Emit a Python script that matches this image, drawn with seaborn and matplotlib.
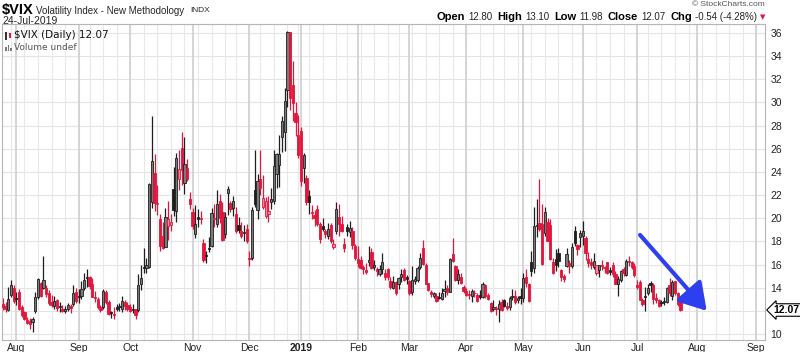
import numpy as np
import pandas as pd
import matplotlib
matplotlib.use("Agg")
import matplotlib.pyplot as plt
from matplotlib.patches import Rectangle
import seaborn as sns

# daily $VIX candles, 25-Jul-2018 .. 24-Jul-2019
opens = [
    12.6, 12.4, 12.1, 13.4, 14.0,
    13.0, 13.6, 12.3, 11.9, 11.2, 11.1, 11.0, 12.0, 13.2, 14.4, 14.0, 14.0, 13.5, 12.8, 12.4, 12.9, 12.3, 12.2, 12.0, 12.2, 12.4, 12.6, 13.6,
    13.2, 13.3, 14.0, 14.8, 14.9, 14.3, 13.2, 13.0, 12.3, 12.3, 13.6, 12.8, 11.9, 11.7, 12.3, 12.3, 12.2, 12.8, 12.5,
    12.3, 12.2, 12.2, 12.1, 14.3, 15.7, 15.7, 15.8, 21.4, 23.9, 21.2, 19.9, 18.5, 17.5, 19.3, 19.4, 22.5, 20.6, 23.4, 26.1, 23.0, 24.3, 21.7,
    20.5, 18.6, 20.1, 19.9, 17.9, 16.8, 17.4, 17.6, 19.9, 19.5, 21.5, 20.5, 18.6, 22.2, 21.3, 20.9, 20.4, 19.4, 18.9, 18.7, 19.1,
    16.5, 16.6, 22.4, 20.7, 23.4, 21.0, 20.2, 20.4, 21.4, 21.5, 23.8, 24.6, 27.0, 27.4, 31.1, 36.1, 31.5, 29.1, 27.2,
    27.5, 24.3, 23.5, 21.9, 20.5, 20.3, 20.8, 19.5, 19.3, 18.9, 18.5, 19.4, 17.5, 18.9, 20.1, 19.5, 17.8, 19.2, 18.8, 18.9, 17.6,
    16.5, 16.4, 15.8, 15.5, 16.2, 17.1, 15.8, 15.6, 15.2, 15.6, 15.3, 15.6, 14.6, 14.0, 14.5, 14.3, 14.9, 15.5, 14.9,
    14.6, 13.6, 14.6, 14.7, 15.8, 17.4, 16.0, 14.4, 13.6, 13.3, 13.3, 13.1, 13.0, 13.7, 14.0, 13.6, 16.9, 15.9, 14.7, 14.9, 14.1,
    13.7, 13.4, 13.3, 13.5, 13.4, 13.4, 13.2, 14.2, 13.4, 12.7, 12.2, 12.2, 12.2, 12.8, 12.9, 12.4, 12.3, 13.2, 13.3, 12.9, 13.3,
    13.1, 14.9, 14.3, 16.2, 15.7, 19.3, 19.6, 19.5, 18.7, 19.7, 19.4, 16.2, 16.5, 17.0, 15.5, 15.0, 15.9, 16.1, 15.9, 18.9, 17.7, 18.4,
    18.5, 18.3, 16.5, 16.2, 15.8, 15.3, 15.5, 16.0, 15.7, 16.2, 15.5, 16.0, 15.2, 14.3, 14.7, 15.6, 15.1, 16.3, 16.2, 15.9,
    14.2, 14.5, 12.9, 13.2, 13.5, 14.4, 14.2, 13.1, 12.9, 12.7, 12.8, 12.8, 14.2, 13.3, 14.6, 13.5, 12.80,
]
highs = [
    13.1, 12.8, 14.1, 14.7, 14.2,
    13.6, 13.9, 12.5, 12.0, 11.5, 11.4, 11.5, 13.6, 14.8, 14.5, 16.7, 14.2, 13.8, 13.4, 13.3, 13.0, 12.8, 12.5, 12.4, 12.7, 12.6, 14.2, 14.0,
    13.9, 14.6, 15.3, 15.6, 15.0, 14.8, 13.7, 13.2, 12.5, 13.9, 13.8, 12.9, 12.0, 12.3, 12.6, 12.7, 13.3, 12.9, 12.8,
    12.6, 12.6, 12.2, 15.2, 16.0, 17.4, 16.6, 23.0, 28.8, 25.5, 22.9, 20.4, 19.7, 20.9, 21.5, 20.4, 24.4, 25.6, 25.9, 27.4, 27.0, 25.1, 22.3,
    20.9, 21.1, 20.8, 20.6, 18.2, 17.2, 18.4, 20.9, 21.2, 22.4, 22.1, 21.4, 20.5, 22.8, 21.5, 21.9, 21.0, 20.1, 19.7, 19.4, 19.5,
    17.2, 21.0, 25.9, 23.8, 25.9, 23.7, 21.8, 21.9, 22.6, 25.9, 25.6, 27.2, 28.8, 31.2, 36.2, 36.1, 33.6, 30.0, 28.9,
    27.9, 25.6, 23.7, 22.4, 21.1, 20.7, 21.1, 19.7, 20.0, 19.1, 19.6, 19.6, 18.2, 21.4, 21.2, 20.2, 18.3, 19.5, 19.8, 19.2, 17.8,
    17.6, 16.7, 16.0, 16.1, 17.6, 17.4, 16.4, 15.8, 16.0, 17.0, 15.6, 15.7, 14.9, 15.0, 14.6, 14.9, 15.6, 15.7, 15.1,
    14.7, 15.9, 15.0, 15.9, 17.0, 18.1, 16.1, 14.4, 13.8, 13.6, 13.5, 13.6, 14.0, 14.7, 14.2, 16.6, 18.3, 16.0, 15.6, 15.3, 14.2,
    14.0, 13.8, 13.9, 13.8, 13.5, 13.8, 14.5, 14.3, 13.5, 12.8, 12.9, 12.4, 12.9, 13.0, 13.0, 12.8, 13.3, 13.9, 13.8, 13.3, 14.0,
    15.3, 15.6, 14.4, 17.2, 21.0, 21.7, 23.4, 21.2, 21.0, 20.0, 19.9, 16.6, 17.3, 17.4, 15.6, 15.2, 17.4, 16.4, 17.9, 19.3, 17.8, 19.0,
    19.8, 18.5, 17.1, 16.6, 17.0, 16.0, 16.0, 16.4, 15.9, 16.2, 15.8, 16.2, 15.4, 15.0, 15.5, 15.8, 16.5, 16.7, 16.3, 16.1,
    14.7, 14.7, 13.1, 14.1, 14.3, 14.6, 14.4, 13.5, 13.0, 12.9, 13.2, 14.1, 14.8, 14.7, 14.6, 13.6, 13.10,
]
lows = [
    12.1, 11.9, 12.0, 13.2, 12.7,
    12.5, 12.1, 11.5, 11.2, 10.9, 10.4, 10.2, 11.8, 13.0, 13.2, 13.9, 13.2, 12.5, 12.3, 12.2, 12.0, 11.9, 11.9, 11.8, 12.0, 11.8, 12.4, 12.7,
    12.7, 13.0, 13.8, 14.1, 13.9, 13.2, 12.8, 12.2, 11.9, 12.2, 12.6, 11.6, 11.4, 11.3, 12.0, 12.0, 11.9, 12.1, 12.0,
    11.9, 11.8, 11.3, 11.9, 13.8, 15.3, 15.3, 15.7, 20.9, 20.6, 20.3, 17.2, 17.3, 17.5, 18.1, 18.9, 20.2, 19.7, 22.4, 22.9, 22.1, 23.2, 20.8,
    19.1, 18.3, 19.2, 19.5, 16.2, 16.1, 17.1, 17.5, 19.2, 19.2, 19.6, 18.0, 18.3, 20.3, 20.5, 20.2, 18.7, 18.7, 18.3, 18.0, 17.9,
    15.9, 16.4, 21.0, 19.9, 22.0, 20.8, 20.0, 19.7, 20.8, 21.2, 22.6, 22.7, 25.7, 25.8, 29.6, 29.3, 28.4, 27.1, 25.2,
    22.8, 23.0, 21.1, 20.4, 19.9, 19.3, 19.3, 17.9, 18.9, 18.3, 18.2, 17.9, 17.3, 18.6, 18.5, 18.8, 17.1, 18.5, 18.4, 17.3, 16.4,
    15.8, 15.6, 15.2, 15.2, 15.9, 15.6, 15.5, 15.0, 15.0, 15.2, 14.7, 14.7, 13.9, 13.9, 13.4, 13.9, 14.5, 14.6, 14.3,
    13.4, 13.4, 14.3, 14.5, 15.6, 16.0, 14.3, 13.7, 13.2, 13.1, 12.8, 13.0, 12.9, 13.2, 13.4, 13.6, 16.2, 14.6, 14.3, 14.3, 13.5,
    13.3, 13.0, 12.8, 13.2, 12.8, 13.0, 13.1, 13.1, 12.9, 11.9, 12.0, 11.6, 11.0, 12.0, 12.3, 12.1, 12.1, 12.9, 12.6, 12.7, 12.6,
    12.8, 14.1, 12.8, 15.0, 15.3, 18.4, 18.9, 16.0, 18.5, 18.0, 16.4, 15.2, 15.4, 15.8, 14.6, 14.5, 15.8, 15.3, 15.7, 17.6, 16.8, 17.5,
    17.7, 16.4, 15.8, 15.6, 15.6, 15.1, 14.9, 15.5, 15.3, 15.2, 15.1, 14.9, 14.3, 13.3, 14.5, 15.0, 15.0, 15.9, 15.6, 14.9,
    13.9, 12.9, 12.4, 12.0, 13.4, 13.6, 12.6, 12.7, 12.3, 12.4, 12.5, 12.7, 13.3, 12.9, 13.4, 12.4, 11.98,
]
closes = [
    12.29, 12.14, 13.03, 14.26, 12.83,
    13.15, 12.19, 11.64, 11.27, 10.93, 10.85, 11.27, 13.16, 14.78, 13.31, 14.64, 13.45, 12.64, 12.49, 12.86, 12.25, 12.41, 11.99, 12.16, 12.50, 12.25, 13.53, 12.86,
    13.16, 13.91, 14.65, 14.88, 14.16, 13.22, 13.14, 12.37, 12.07, 13.68, 12.79, 11.75, 11.80, 11.68, 12.20, 12.42, 12.89, 12.41, 12.12,
    12.00, 12.05, 11.61, 14.22, 14.82, 15.69, 15.95, 22.96, 24.98, 21.31, 21.30, 17.62, 17.40, 20.06, 19.89, 19.64, 20.71, 25.23, 24.22, 24.16, 24.70, 23.35, 21.23,
    19.34, 19.51, 19.96, 19.91, 16.36, 16.72, 17.36, 20.45, 20.02, 21.25, 19.98, 18.14, 20.10, 22.48, 20.80, 21.52, 18.90, 19.02, 18.49, 18.79, 18.07,
    16.44, 20.74, 21.19, 23.23, 22.64, 21.76, 21.46, 20.65, 21.63, 24.52, 25.58, 25.58, 28.38, 30.11, 36.07, 30.41, 29.96, 28.34, 25.42,
    23.22, 25.45, 21.38, 21.40, 20.47, 19.98, 19.50, 18.19, 19.07, 18.60, 19.04, 18.06, 17.80, 20.80, 19.52, 18.89, 17.42, 18.87, 19.13, 17.66, 16.57,
    16.14, 15.73, 15.57, 15.38, 16.37, 15.72, 15.97, 15.43, 15.65, 16.22, 14.91, 14.88, 14.02, 14.46, 13.51, 14.85, 15.17, 14.70, 14.78,
    13.57, 14.63, 14.74, 15.74, 16.59, 16.05, 14.33, 13.77, 13.41, 13.50, 12.88, 13.10, 13.56, 13.91, 13.63, 16.48, 16.33, 14.68, 15.15, 14.43, 13.71,
    13.40, 13.36, 13.74, 13.58, 12.82, 13.18, 14.28, 13.30, 13.02, 12.01, 12.32, 12.18, 12.60, 12.09, 12.42, 12.28, 13.14, 13.25, 12.73, 13.11, 13.12,
    14.80, 14.42, 12.87, 15.44, 19.32, 19.40, 19.10, 16.04, 20.55, 18.06, 16.44, 15.29, 15.96, 16.31, 14.95, 14.75, 16.92, 15.85, 17.50, 17.90, 17.30, 18.71,
    18.86, 16.97, 16.09, 15.93, 16.30, 15.94, 15.99, 15.91, 15.82, 15.28, 15.35, 15.15, 14.33, 14.75, 15.40, 15.26, 16.28, 16.21, 15.82, 15.08,
    14.06, 12.93, 12.57, 13.28, 13.96, 14.23, 13.03, 12.93, 12.39, 12.68, 12.86, 13.97, 13.53, 14.45, 13.53, 12.61, 12.07,
]
assert len(opens) == len(highs) == len(lows) == len(closes), (len(opens), len(highs), len(lows), len(closes))

holidays = ["2018-09-03", "2018-11-22", "2018-12-05", "2018-12-25", "2019-01-01",
            "2019-01-21", "2019-02-18", "2019-04-19", "2019-05-27", "2019-07-04", "2019-09-02"]
month_labels = ["Aug", "Sep", "Oct", "Nov", "Dec", "2019", "Feb", "Mar", "Apr",
                "May", "Jun", "Jul", "Aug", "Sep"]
y_ticks = [10, 12, 14, 16, 18, 20, 22, 24, 26, 28, 30, 32, 34, 36]
y_tick_labels = ["10", "", "14", "16", "18", "20", "22", "24", "26", "28", "30", "32", "34", "36"]
header_values = [("Open", "12.80"), ("High", "13.10"), ("Low", "11.98"), ("Close", "12.07"),
                 ("Chg", "-0.54 (-4.28%)")]
last_close = "12.07"
trend_arrow = ((235.1, 18.55), (259.7, 12.0))  # hand-drawn arrow: start, tip

# trading-day axis (future days keep the right-hand blank space)
days = pd.bdate_range("2018-07-25", "2019-09-06")
days = days[~days.isin(pd.to_datetime(holidays))]
n = len(closes)
df = pd.DataFrame({"open": opens, "high": highs, "low": lows, "close": closes})
df["idx"] = np.arange(n)
df["prev"] = df["close"].shift(1).fillna(df["open"])

periods = days.to_period("M")
month_starts = [i for i in range(1, len(days)) if periods[i] != periods[i - 1]]
weeks = days.isocalendar().week.values
week_starts = [i for i in range(1, len(days)) if weeks[i] != weeks[i - 1]]

sns.set_theme(style="white")
plt.rcParams["font.family"] = ["Liberation Sans", "DejaVu Sans"]

RED = "#e0163c"
fig = plt.figure(figsize=(8, 3.52), dpi=100)
ax = fig.add_axes([2 / 800, 12 / 352, 763 / 800, 316 / 352])
ax.set_xlim(-0.3, 281.2)
ax.set_ylim(9.48, 36.77)

# grid
for y in y_ticks:
    ax.axhline(y, color="#e4e4e4", lw=0.8, zorder=0)
ax.vlines(week_starts, 9.48, 36.77, color="#e8e8e8", lw=0.8, zorder=0)
ax.vlines(month_starts, 9.48, 36.77, color="#d2d2d2", lw=1.3, zorder=0)

# candles: red = close below previous close, hollow = close above open
for r in df.itertuples():
    col = RED if r.close < r.prev else "#1e1e1e"
    hollow = r.close > r.open
    if hollow:
        face = "#f08ca0" if col == RED else "#7a7a7a"
    else:
        face = col
    ax.vlines(r.idx, r.low, r.high, color=col, lw=0.9, zorder=2)
    lo = min(r.open, r.close)
    h = max(abs(r.close - r.open), 0.08)
    ax.add_patch(Rectangle((r.idx - 0.42, lo), 0.84, h, facecolor=face,
                           edgecolor=col, lw=0.6, zorder=3))

# axes styling
ax.yaxis.tick_right()
ax.set_yticks(y_ticks)
ax.set_yticklabels(y_tick_labels)
ax.set_xticks(month_starts)
ax.set_xticklabels(month_labels)
for lab in ax.get_xticklabels():
    lab.set_family(["Liberation Sans Narrow", "Liberation Sans"])
    if lab.get_text() == "2019":
        lab.set_fontweight("bold")
        lab.set_fontsize(8.5)
ax.tick_params(axis="y", length=0, pad=4, labelsize=7.5, labelcolor="#222222")
ax.tick_params(axis="x", length=0, pad=2, labelsize=7.5, labelcolor="#222222")
for s in ax.spines.values():
    s.set_color("#b5b5b5")
    s.set_linewidth(0.8)
ax.set_xlabel("")
ax.set_ylabel("")

# last price marker
ax.annotate(last_close, xy=(1.0, float(last_close)), xycoords=("axes fraction", "data"),
            xytext=(6, 0), textcoords="offset points", ha="left", va="center",
            fontsize=7.5, fontweight="bold", color="black",
            bbox=dict(boxstyle="larrow,pad=0.12", fc="white", ec="black", lw=0.8),
            annotation_clip=False)

# trend arrow
ax.annotate("", xy=trend_arrow[1], xytext=trend_arrow[0],
            arrowprops=dict(arrowstyle="-|>,head_length=0.9,head_width=0.55",
                            color="#2e3ff0", lw=3, mutation_scale=18, shrinkA=0, shrinkB=0))

# in-chart legend
def px(x, y):
    return x / 800, 1 - y / 352

fig.add_artist(Rectangle(px(5, 40), 2 / 800, 8 / 352, transform=fig.transFigure, fc="#333333", ec="none"))
fig.add_artist(Rectangle(px(8.5, 38), 2 / 800, 5 / 352, transform=fig.transFigure, fc=RED, ec="none"))
for bx, bh in [(5, 4), (7.5, 6), (10, 3)]:
    fig.add_artist(Rectangle(px(bx, 51), 1.6 / 800, bh / 352, transform=fig.transFigure, fc="#777777", ec="none"))
fig.text(*px(14, 35), "$VIX (Daily) 12.07", fontsize=7.5, family="DejaVu Sans",
         va="center", color="#111111")
fig.text(*px(14, 47.5), "Volume undef", fontsize=6.5, family="DejaVu Sans",
         va="center", color="#555555")

# header
renderer = fig.canvas.get_renderer()
fig.text(*px(2, 10), "$VIX", fontsize=10.5, fontweight="bold", va="center", color="black")
t = fig.text(*px(36, 10.5), "Volatility Index - New Methodology", fontsize=7, va="center")
fig.text(*px(t.get_window_extent(renderer).x1 + 6, 11), "INDX", fontsize=6, va="center")
fig.text(*px(2, 21), "24-Jul-2019", fontsize=7.5, va="center")
fig.text(*px(765, 5), "\u00a9 StockCharts.com", fontsize=6, va="center", ha="right", color="#555555")

fig.text(*px(765, 17.5), "\u25bc", fontsize=5, va="center", ha="right", color=RED, family="DejaVu Sans")
xr = 757
for key, val in reversed(header_values):
    t = fig.text(*px(xr, 17), val, fontsize=7, va="center", ha="right", color="#222222")
    xr = t.get_window_extent(renderer).x0 - 3
    t = fig.text(*px(xr, 17), key, fontsize=8, fontweight="bold", va="center", ha="right", color="black")
    xr = t.get_window_extent(renderer).x0 - 5

fig.savefig("out.png", dpi=100)
